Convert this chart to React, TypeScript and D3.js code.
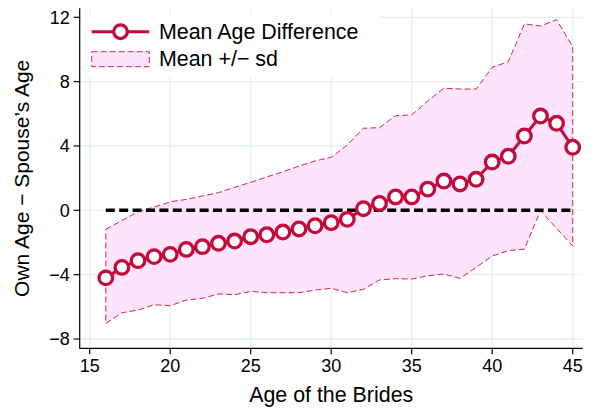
import React from "react";
import * as d3 from "d3";

const ages = [16, 17, 18, 19, 20, 21, 22, 23, 24, 25, 26, 27, 28, 29, 30, 31, 32, 33, 34, 35, 36, 37, 38, 39, 40, 41, 42, 43, 44, 45];
const meanDiff = [-4.2, -3.55, -3.13, -2.88, -2.74, -2.43, -2.26, -2.05, -1.91, -1.64, -1.52, -1.35, -1.16, -0.96, -0.77, -0.56, 0.1, 0.43, 0.83, 0.83, 1.32, 1.82, 1.64, 1.93, 3.0, 3.36, 4.62, 5.86, 5.41, 3.92];
const upperSd = [-1.18, -0.64, -0.09, 0.2, 0.53, 0.68, 0.89, 1.1, 1.43, 1.74, 2.07, 2.4, 2.75, 3.07, 3.3, 4.06, 5.1, 5.14, 5.88, 5.93, 6.8, 7.59, 7.54, 7.54, 8.89, 9.24, 11.59, 11.46, 11.85, 10.17];
const lowerSd = [-7.03, -6.37, -6.2, -5.87, -5.93, -5.58, -5.47, -5.2, -5.25, -5.04, -5.12, -5.12, -5.12, -4.96, -4.85, -5.12, -4.91, -4.33, -4.25, -4.27, -4.07, -3.96, -4.23, -3.55, -2.84, -2.51, -2.41, -0.02, -1.12, -2.22];
const xTicks = [15, 20, 25, 30, 35, 40, 45];
const yTicks = [-8, -4, 0, 4, 8, 12];
const legendLabels = ["Mean Age Difference", "Mean +/\u2212 sd"];
const xTitle = "Age of the Brides";
const yTitle = "Own Age \u2212 Spouse\u2019s Age";

const W = 597;
const H = 411;
const plotLeft = 79.7;
const plotRight = 582.7;
const plotTop = 8.3;
const plotBottom = 348.3;

const RED = "#c40a3c";
const BAND_FILL = "#fde3fb";
const BAND_LINE = "#d42450";
const GRID = "#e6eff1";
const FONT = "'Liberation Sans', Arial, Helvetica, sans-serif";

export default function App() {
  const x = d3.scaleLinear().domain([15, 45]).range([89.7, 572.7]);
  const y = d3.scaleLinear().domain([-8, 12]).range([339, 17.3]);

  const idx = ages.map((_, i) => i);
  const area = d3
    .area<number>()
    .x((i) => x(ages[i]))
    .y0((i) => y(lowerSd[i]))
    .y1((i) => y(upperSd[i]));
  const line = d3
    .line<number>()
    .x((i) => x(ages[i]))
    .y((i) => y(meanDiff[i]));

  const legX0 = 91.7;
  const legX1 = 149.3;

  return (
    <svg
      width={W}
      height={H}
      style={{ position: "absolute", left: 0, top: 0, background: "#fff" }}
      fontFamily={FONT}
    >
      <rect x={0} y={0} width={W} height={H} fill="#fff" />
      {/* grid */}
      {yTicks.map((t) => (
        <line key={"gy" + t} x1={plotLeft} x2={plotRight} y1={y(t)} y2={y(t)} stroke={GRID} strokeWidth={1.3} />
      ))}
      {xTicks.map((t) => (
        <line key={"gx" + t} x1={x(t)} x2={x(t)} y1={plotTop} y2={plotBottom} stroke={GRID} strokeWidth={1.3} />
      ))}
      {/* legend background */}
      <rect x={82} y={14} width={296} height={63} fill="#fff" />
      {/* band */}
      <path d={area(idx) || ""} fill={BAND_FILL} stroke={BAND_LINE} strokeWidth={1} strokeDasharray="6,3" />
      {/* zero line */}
      <line
        x1={x(ages[0])}
        x2={x(ages[ages.length - 1])}
        y1={y(0)}
        y2={y(0)}
        stroke="#000"
        strokeWidth={3.6}
        strokeDasharray="9,4.4"
      />
      {/* mean line */}
      <path d={line(idx) || ""} fill="none" stroke={RED} strokeWidth={3} />
      {idx.map((i) => (
        <circle key={"c" + i} cx={x(ages[i])} cy={y(meanDiff[i])} r={6.8} fill="#fff" stroke={RED} strokeWidth={3.3} />
      ))}
      {/* axes */}
      <line x1={plotLeft} x2={plotLeft} y1={plotTop} y2={plotBottom + 0.5} stroke="#000" strokeWidth={1.2} />
      <line x1={plotLeft} x2={plotRight} y1={plotBottom} y2={plotBottom} stroke="#000" strokeWidth={1.2} />
      {yTicks.map((t) => (
        <g key={"ty" + t}>
          <line x1={plotLeft - 6} x2={plotLeft} y1={y(t)} y2={y(t)} stroke="#000" strokeWidth={1.2} />
          <text x={plotLeft - 10} y={y(t)} dy="0.35em" textAnchor="end" fontSize={18} fill="#000">
            {t < 0 ? "\u2212" + Math.abs(t) : String(t)}
          </text>
        </g>
      ))}
      {xTicks.map((t) => (
        <g key={"tx" + t}>
          <line x1={x(t)} x2={x(t)} y1={plotBottom} y2={plotBottom + 6} stroke="#000" strokeWidth={1.2} />
          <text x={x(t)} y={371.5} textAnchor="middle" fontSize={18} fill="#000">
            {String(t)}
          </text>
        </g>
      ))}
      <text x={(plotLeft + plotRight) / 2} y={402} textAnchor="middle" fontSize={21.4} fill="#000">
        {xTitle}
      </text>
      <text
        transform={`translate(29,${(plotTop + plotBottom) / 2}) rotate(-90)`}
        textAnchor="middle"
        fontSize={21}
        fill="#000"
      >
        {yTitle}
      </text>
      {/* legend */}
      <line x1={legX0} x2={legX1} y1={31.7} y2={31.7} stroke={RED} strokeWidth={3} />
      <circle cx={(legX0 + legX1) / 2} cy={31.7} r={6.8} fill="#fff" stroke={RED} strokeWidth={3.3} />
      <text x={159} y={38.6} fontSize={21.4} fill="#000">
        {legendLabels[0]}
      </text>
      <rect
        x={legX0}
        y={51.7}
        width={legX1 - legX0}
        height={15}
        fill={BAND_FILL}
        stroke={BAND_LINE}
        strokeWidth={1}
        strokeDasharray="6,3"
      />
      <text x={159} y={66} fontSize={21.4} fill="#000">
        {legendLabels[1]}
      </text>
    </svg>
  );
}
